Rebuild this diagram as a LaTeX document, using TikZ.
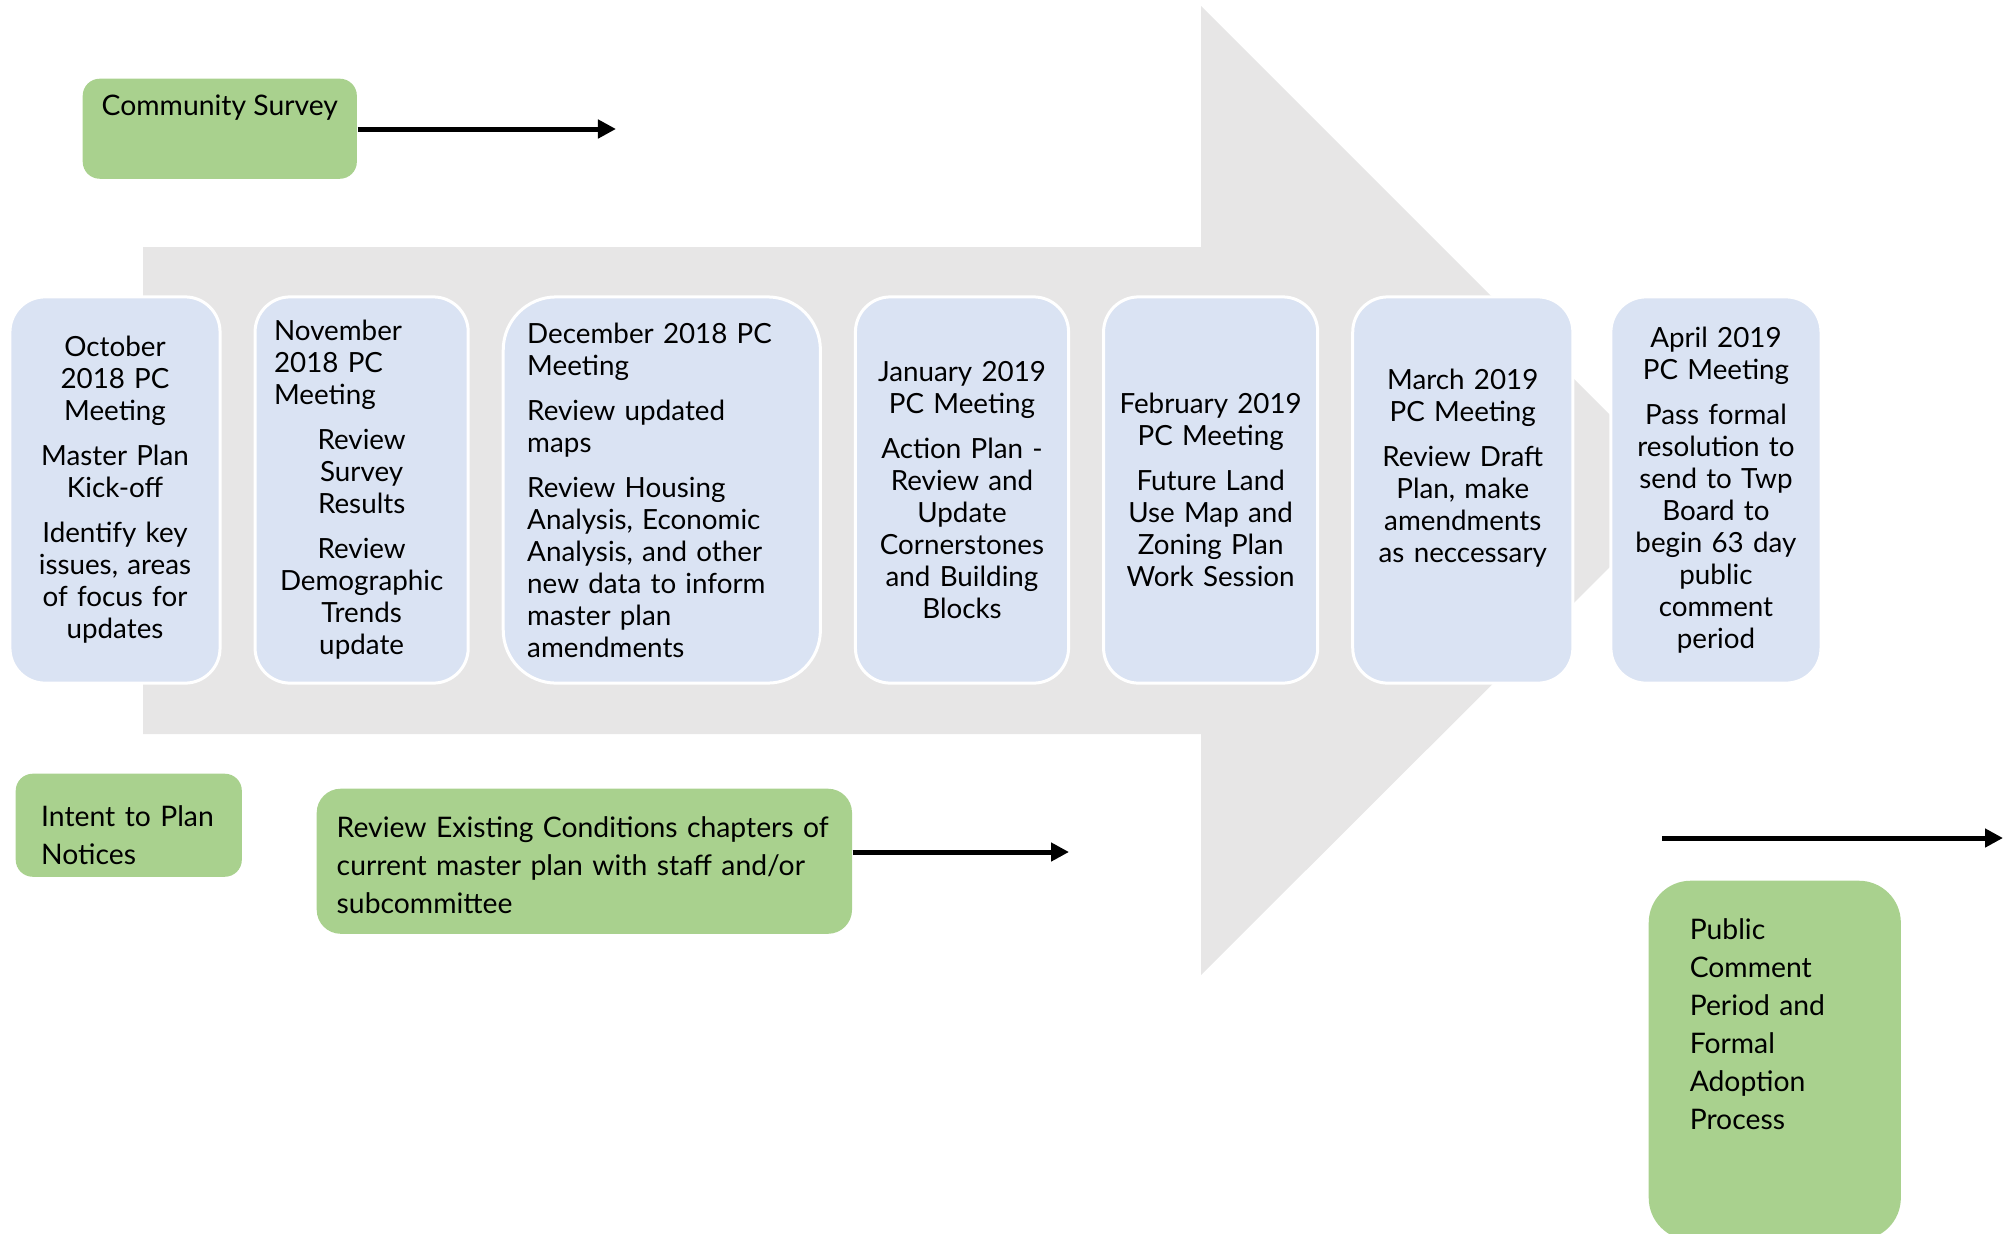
\documentclass[tikz,border=0pt]{standalone}
\usepackage{fontspec}
\setmainfont{Lato}
\usepackage{tikz}
\usetikzlibrary{positioning, arrows.meta}
\definecolor{arrowgray}{RGB}{231,230,230}
\definecolor{meetblue}{RGB}{218,227,243}
\definecolor{taskgreen}{RGB}{169,209,142}
\tikzstyle{arrow} = [line width=0.05cm,-{Triangle[length=0.18cm,width=0.18cm]}]
\tikzstyle{meeting} = [fill=meetblue, draw=white, line width=0.03cm, minimum height=3.86cm, inner xsep=0pt, inner ysep=0pt, rounded corners=0.35cm, font=\fontsize{7.9}{9.1}\selectfont]
\tikzstyle{task} = [fill=taskgreen, align=left, inner ysep=0pt, font=\fontsize{8.05}{10.8}\selectfont]

\begin{document}
\begin{tikzpicture}[x=0.01cm, y=-0.01cm, node distance=0.32cm]
    \clip (0,0) rectangle (2009,1233);

    % big arrow behind the meetings
    \fill[arrowgray] (143,247) -- (1201,247) -- (1201,6) -- (1686,491) -- (1201,975) -- (1201,734) -- (143,734) -- cycle;

    % PC meetings
    \node[meeting, text width=2.10cm, align=center] (oct) at (115,490) {October\\2018 PC\\Meeting\\[0.13cm] Master Plan\\Kick-off\\[0.13cm] Identify key\\issues, areas\\of focus for\\updates};
    \node[meeting, right=of oct, minimum width=2.13cm, text width=1.75cm, align=left] (nov) {November\\2018 PC\\Meeting\par\vspace{0.13cm}\centering Review\\Survey\\Results\\[0.13cm] Review\\Demographic\\Trends\\update\par};
    \node[meeting, right=of nov, minimum width=3.17cm, text width=2.69cm, align=left, rounded corners=0.53cm] (dec) {December 2018 PC\\Meeting\\[0.13cm] Review updated\\maps\\[0.13cm] Review Housing\\Analysis, Economic\\Analysis, and other\\new data to inform\\master plan\\amendments};
    \node[meeting, right=of dec, text width=2.13cm, align=center] (jan) {January 2019\\PC Meeting\\[0.13cm] Action Plan -\\Review and\\Update\\Cornerstones\\and Building\\Blocks};
    \node[meeting, right=of jan, text width=2.14cm, align=center] (feb) {February 2019\\PC Meeting\\[0.13cm] Future Land\\Use Map and\\Zoning Plan\\Work Session};
    \node[meeting, right=of feb, text width=2.20cm, align=center] (mar) {March 2019\\PC Meeting\\[0.13cm] Review Draft\\Plan, make\\amendments\\as neccessary\\[0.16cm]\mbox{}};
    \node[meeting, right=0.35cm of mar, text width=2.10cm, align=center] (apr) {April 2019\\PC Meeting\\[0.13cm] Pass formal\\resolution to\\send to Twp\\Board to\\begin 63 day\\public\\comment\\period};

    % tasks
    \node[task, anchor=north west, minimum width=2.74cm, text height=0.37cm, text depth=0.63cm, rounded corners=0.17cm] (survey) at (82,78) {Community Survey};
    \node[task, anchor=north west, text width=1.75cm, inner xsep=0.255cm, text height=0.53cm, text depth=0.50cm, rounded corners=0.17cm] (intent) at (15,773) {Intent to Plan\\Notices};
    \node[task, anchor=north west, text width=4.95cm, inner xsep=0.2cm, text height=0.49cm, text depth=0.96cm, rounded corners=0.24cm] (review) at (316,788) {Review Existing Conditions chapters of\\current master plan with staff and/or\\subcommittee};
    \node[task, anchor=north west, text width=1.70cm, inner xsep=0.41cm, text height=0.59cm, text depth=3.0cm, rounded corners=0.42cm] (adoption) at (1648,880) {Public\\Comment\\Period and\\Formal\\Adoption\\Process};

    % Edges
    \coordinate (surveyend) at (616,129);
    \coordinate (reviewend) at (1069,852);
    \coordinate (adoptstart) at (1662,838);
    \coordinate (adoptend) at (2003,838);
    \draw[arrow] (survey.east |- surveyend) -- (surveyend);
    \draw[arrow] (review.east |- reviewend) -- (reviewend);
    \draw[arrow] (adoptstart) -- (adoptend);
\end{tikzpicture}
\end{document}
